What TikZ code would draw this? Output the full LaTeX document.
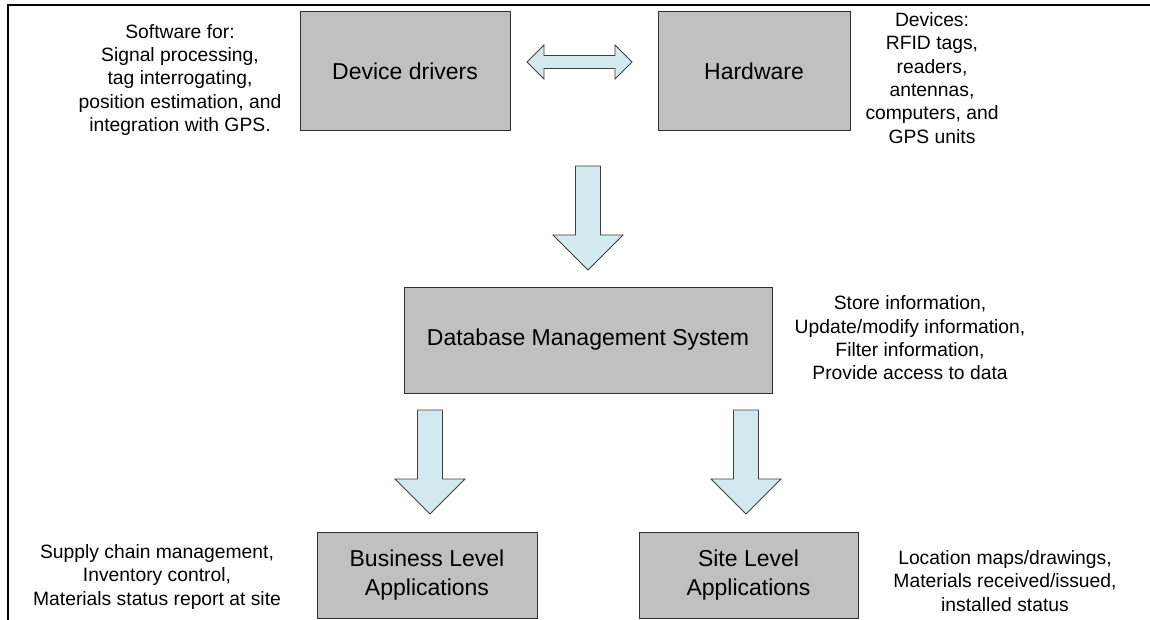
\documentclass[tikz,border=0pt]{standalone}
\usepackage{fontspec}
\setmainfont{Liberation Sans}
\definecolor{boxgray}{HTML}{C0C0C0}
\definecolor{boxline}{HTML}{303030}
\definecolor{arrowblue}{HTML}{D2E9EF}
\definecolor{arrowline}{HTML}{404040}
% block arrow pointing down: #1 centre x, #2 top y, #3 head start y, #4 tip y
\newcommand\blkdown[4]{%
  \draw[blockarrow] (#1-12.5,#2) -- (#1+12.5,#2) -- (#1+12.5,#3) -- (#1+35,#3)
    -- (#1,#4) -- (#1-35,#3) -- (#1-12.5,#3) -- cycle;}
\begin{document}
\begin{tikzpicture}[x=1pt,y=-1pt,
  box/.style={draw=boxline, fill=boxgray, line width=1pt, align=center, inner sep=0pt,
    font=\fontsize{23}{28.5}\selectfont},
  note/.style={align=center, inner sep=0pt, font=\fontsize{19.3}{23.3}\selectfont},
  blockarrow/.style={draw=arrowline, fill=arrowblue, line width=0.8pt, line join=miter}]
\useasboundingbox (0,0) rectangle (1150,620);

% outer frame (top and left edges only)
\draw[line width=2.5pt] (8,620) -- (8,5) -- (1150,5);

% main boxes
\node[box, minimum width=210pt, minimum height=119pt] (dd)  at (405,71.5)  {Device drivers};
\node[box, minimum width=192pt, minimum height=119pt] (hw)  at (754,71.5)  {Hardware};
\node[box, minimum width=368pt, minimum height=106pt] (db)  at (588,340)   {Database Management System};
\node[box, minimum width=220pt, minimum height=86pt]  (bla) at (427,575)   {Business Level\\Applications};
\node[box, minimum width=219pt, minimum height=86pt]  (sla) at (748.5,575) {Site Level\\Applications};

% annotations
\node[note] (ddnote) at (180,80) {Software for:\\Signal processing,\\tag interrogating,\\position estimation, and\\integration with GPS.};
\node[note] (hwnote) at (932,78) {Devices:\\RFID tags,\\readers,\\antennas,\\computers, and\\GPS units};
\node[note] (dbnote) at (910,338) {Store information,\\Update/modify information,\\Filter information,\\Provide access to data};
\node[note] (blnote) at (157,577) {Supply chain management,\\Inventory control,\\Materials status report at site};
\node[note] (slnote) at (1005,581) {Location maps/drawings,\\Materials received/issued,\\installed status};

% two-way block arrow between drivers and hardware
\draw[blockarrow] (527,62) -- (544,45) -- (544,55.5) -- (615,55.5) -- (615,45) -- (632,62)
  -- (615,79) -- (615,68.5) -- (544,68.5) -- (544,79) -- cycle;

% downward block arrows
\blkdown{588}{166}{235}{270}
\blkdown{430}{410}{479}{514}
\blkdown{746}{410}{479}{514}
\end{tikzpicture}
\end{document}
